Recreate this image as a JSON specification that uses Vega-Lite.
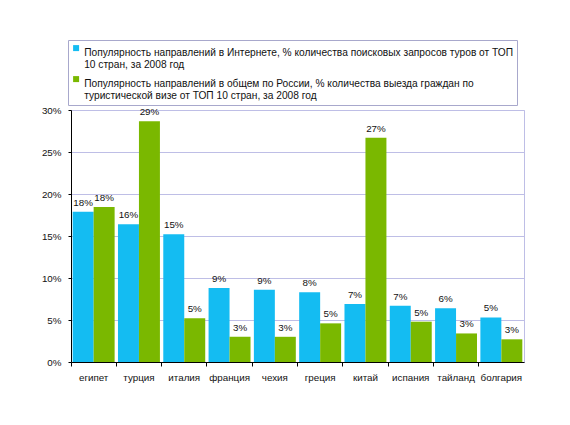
{
  "$schema": "https://vega.github.io/schema/vega-lite/v6.json",
  "autosize": {"type": "none"},
  "width": 453,
  "height": 252,
  "padding": {"left": 71, "top": 110, "right": 46, "bottom": 63},
  "background": "white",
  "config": {
    "font": "Liberation Sans",
    "view": {"stroke": "#BEBEE6", "strokeWidth": 1}
  },
  "data": {
    "values": [
      {"country": "египет", "series": "a", "value": 17.9},
      {"country": "египет", "series": "b", "value": 18.45},
      {"country": "турция", "series": "a", "value": 16.4},
      {"country": "турция", "series": "b", "value": 28.65},
      {"country": "италия", "series": "a", "value": 15.2},
      {"country": "италия", "series": "b", "value": 5.2},
      {"country": "франция", "series": "a", "value": 8.8},
      {"country": "франция", "series": "b", "value": 3.0},
      {"country": "чехия", "series": "a", "value": 8.6},
      {"country": "чехия", "series": "b", "value": 3.0},
      {"country": "греция", "series": "a", "value": 8.3},
      {"country": "греция", "series": "b", "value": 4.6},
      {"country": "китай", "series": "a", "value": 6.9},
      {"country": "китай", "series": "b", "value": 26.7},
      {"country": "испания", "series": "a", "value": 6.7},
      {"country": "испания", "series": "b", "value": 4.8},
      {"country": "тайланд", "series": "a", "value": 6.4},
      {"country": "тайланд", "series": "b", "value": 3.4},
      {"country": "болгария", "series": "a", "value": 5.3},
      {"country": "болгария", "series": "b", "value": 2.7}
    ]
  },
  "encoding": {
    "x": {
      "field": "country", "type": "nominal", "sort": null,
      "scale": {"paddingInner": 0, "paddingOuter": 0},
      "axis": {
        "title": null, "labelAngle": 0, "bandPosition": 0,
        "domainColor": "black", "tickColor": "black", "tickSize": 4,
        "labelPadding": 6, "labelFontSize": 9.8, "labelColor": "#111", "grid": false
      }
    },
    "xOffset": {"field": "series", "type": "nominal", "scale": {"paddingOuter": 0.08, "paddingInner": 0}},
    "y": {
      "field": "value", "type": "quantitative",
      "scale": {"domain": [0, 30], "nice": false},
      "axis": {
        "title": null, "values": [0, 5, 10, 15, 20, 25, 30],
        "labelExpr": "datum.value + '%'",
        "domainColor": "black", "tickColor": "black", "tickSize": 3,
        "labelPadding": 7, "labelFontSize": 9.8, "labelColor": "#111",
        "gridColor": "#BEBEE6", "gridWidth": 1.2
      }
    }
  },
  "layer": [
    {
      "mark": {"type": "bar"},
      "encoding": {
        "color": {
          "field": "series", "type": "nominal",
          "scale": {"domain": ["a", "b"], "range": ["#14BCF2", "#7AB800"]},
          "legend": {
            "title": null, "orient": "none", "legendX": -3, "legendY": -70,
            "direction": "vertical",
            "labelExpr": "datum.label == 'a' ? ['Популярность направлений в Интернете, % количества поисковых запросов туров от ТОП', '10 стран, за 2008 год'] : ['Популярность направлений в общем по России, % количества выезда граждан по', 'туристической визе от ТОП 10 стран, за 2008 год']",
            "labelFontSize": 10.2, "labelColor": "#111", "labelLimit": 600,
            "labelBaseline": "top", "labelOffset": 3,
            "symbolType": "square", "symbolSize": 36, "symbolStrokeWidth": 0,
            "symbolOpacity": 1, "symbolOffset": 0,
            "rowPadding": 3, "padding": 3,
            "strokeColor": "#A8A8CC", "fillColor": "white"
          }
        }
      }
    },
    {
      "transform": [{"calculate": "format(datum.value, '.0f') + '%'", "as": "label"}],
      "mark": {"type": "text", "dy": -9, "fontSize": 9.8, "color": "#111"},
      "encoding": {
        "text": {"field": "label", "type": "nominal"},
        "detail": {"field": "series"}
      }
    }
  ]
}
